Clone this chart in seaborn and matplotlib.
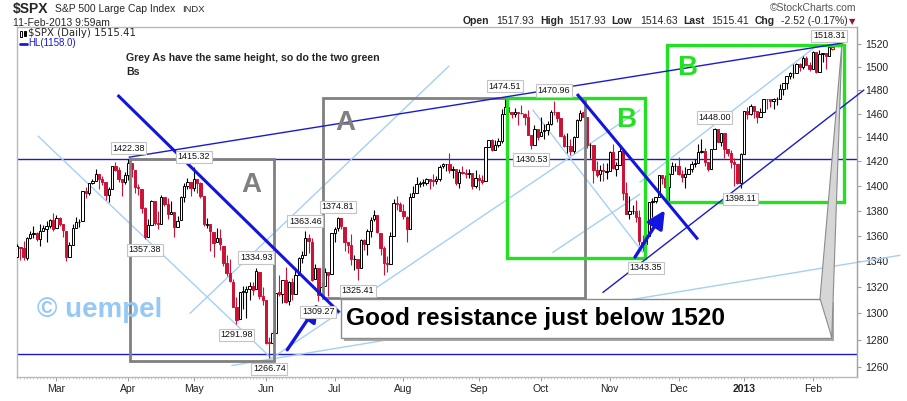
import numpy as np
import pandas as pd
import matplotlib
matplotlib.use("Agg")
import matplotlib.pyplot as plt
import matplotlib.transforms as mtransforms
from matplotlib.patches import Rectangle, Polygon
from matplotlib.lines import Line2D
from matplotlib.ticker import FixedLocator, FixedFormatter, NullLocator
import seaborn as sns

sns.set_theme(style="white")
plt.rcParams['font.family'] = ['Liberation Sans', 'DejaVu Sans']

# ------------------------------------------------------------------ data
start_date = '2012-02-13'
end_date = '2013-02-11'
market_holidays = ['2012-02-20', '2012-04-06', '2012-05-28', '2012-07-04', '2012-09-03',
                   '2012-10-29', '2012-10-30', '2012-11-22', '2012-12-25', '2013-01-01',
                   '2013-01-21']

opens = [
    # Feb 2012
    1343.06, 1351.30, 1350.52, 1342.61, 1358.06, 1361.22, 1362.11, 1357.53, 1363.46, 1365.20, 1367.56, 1372.20,
    # Mar
    1365.90, 1374.09, 1369.59, 1363.63, 1343.39, 1352.65, 1365.97, 1370.78, 1371.92, 1395.95, 1394.17, 1402.55,
    1404.17, 1409.59, 1405.52, 1402.89, 1392.78, 1397.11, 1416.55, 1412.52, 1405.39, 1403.31,
    # Apr
    1408.47, 1418.98, 1413.09, 1398.79, 1397.45, 1382.18, 1358.98, 1368.77, 1387.61, 1370.27, 1369.57, 1390.78,
    1385.08, 1376.96, 1378.53, 1366.97, 1372.11, 1390.64, 1400.19, 1403.26,
    # May
    1397.86, 1405.50, 1402.32, 1391.51, 1368.79, 1369.16, 1363.20, 1354.66, 1358.11, 1351.93, 1338.36, 1330.78,
    1324.18, 1305.05, 1295.73, 1316.02, 1316.36, 1318.72, 1320.81, 1318.90, 1331.25, 1313.09,
    # Jun
    1309.87, 1278.29, 1277.82, 1285.61, 1316.15, 1314.99, 1325.72, 1309.40, 1324.02, 1314.88, 1329.19, 1342.42,
    1344.83, 1357.98, 1355.43, 1325.92, 1334.90, 1314.09, 1320.71, 1331.52, 1330.12,
    # Jul
    1362.33, 1365.75, 1373.72, 1367.09, 1354.66, 1352.96, 1341.40, 1341.40, 1334.81, 1356.50, 1353.68, 1363.58,
    1373.01, 1376.51, 1362.34, 1350.52, 1338.35, 1338.17, 1360.05, 1385.94, 1385.27,
    # Aug
    1379.32, 1375.13, 1365.45, 1391.04, 1394.46, 1401.23, 1402.26, 1402.58, 1405.87, 1404.36, 1403.89, 1405.75,
    1415.84, 1417.85, 1418.13, 1413.09, 1413.49, 1401.99, 1411.13, 1410.44, 1409.32, 1410.08, 1400.07,
    # Sep
    1406.54, 1404.94, 1403.74, 1432.12, 1437.92, 1429.13, 1433.56, 1436.56, 1460.07, 1465.42, 1461.19, 1459.50,
    1461.05, 1460.34, 1459.76, 1456.94, 1441.60, 1433.36, 1447.13,
    # Oct
    1440.90, 1444.99, 1446.05, 1451.08, 1461.40, 1460.93, 1455.90, 1441.48, 1432.82, 1432.84, 1428.75, 1440.31,
    1454.22, 1460.94, 1457.34, 1433.21, 1433.74, 1413.20, 1409.74, 1412.61, 1410.99,
    # Nov
    1412.20, 1427.59, 1414.02, 1417.26, 1428.27, 1394.53, 1377.55, 1379.86, 1380.03, 1374.64, 1355.41, 1353.36,
    1359.88, 1386.82, 1387.79, 1391.03, 1409.15, 1406.29, 1398.77, 1409.96, 1415.95,
    # Dec
    1416.34, 1409.46, 1407.05, 1409.43, 1413.95, 1418.07, 1418.55, 1427.84, 1428.48, 1419.45, 1413.54, 1430.47,
    1446.79, 1435.81, 1443.67, 1430.15, 1426.66, 1419.83, 1418.10, 1402.43,
    # Jan 2013
    1426.19, 1462.42, 1459.37, 1466.47, 1461.89, 1457.15, 1461.02, 1472.12, 1472.05, 1470.67, 1472.33, 1472.63,
    1480.95, 1485.98, 1492.56, 1494.81, 1494.82, 1502.96, 1500.18, 1507.84, 1501.96,
    # Feb 2013
    1498.11, 1513.17, 1495.71, 1511.29, 1512.12, 1509.39, 1517.93,
]

highs = [
    1353.35, 1351.30, 1355.87, 1359.02, 1363.40, 1367.76, 1362.76, 1368.92, 1368.76, 1371.94, 1373.09, 1378.04,
    1376.17, 1374.53, 1369.63, 1363.63, 1354.85, 1368.92, 1374.76, 1373.04, 1396.13, 1399.42, 1402.63, 1405.88,
    1414.00, 1409.59, 1407.85, 1402.89, 1399.18, 1416.58, 1419.15, 1415.35, 1405.39, 1410.89,
    1422.38, 1419.00, 1413.09, 1401.60, 1397.45, 1383.01, 1373.02, 1388.13, 1387.61, 1379.66, 1392.76, 1390.78,
    1390.41, 1387.40, 1378.53, 1375.57, 1391.37, 1402.23, 1406.64, 1403.26,
    1415.32, 1405.50, 1403.07, 1391.51, 1373.91, 1369.16, 1363.20, 1365.88, 1365.20, 1351.93, 1344.94, 1341.78,
    1326.36, 1312.24, 1316.39, 1320.71, 1320.71, 1324.14, 1324.20, 1334.93, 1331.25, 1319.74,
    1309.87, 1282.55, 1287.62, 1315.13, 1329.05, 1325.81, 1335.52, 1324.31, 1327.28, 1333.68, 1343.32, 1348.22,
    1363.46, 1361.57, 1358.27, 1337.82, 1334.90, 1324.24, 1334.40, 1331.52, 1362.17,
    1367.13, 1374.81, 1373.85, 1367.09, 1354.66, 1361.54, 1345.00, 1341.40, 1357.70, 1357.26, 1365.36, 1375.26,
    1380.39, 1376.51, 1362.34, 1351.53, 1343.98, 1363.13, 1389.19, 1391.74, 1387.16,
    1385.03, 1375.32, 1394.16, 1399.63, 1407.14, 1404.14, 1405.95, 1405.98, 1405.87, 1410.03, 1407.73, 1417.44,
    1418.71, 1418.13, 1426.68, 1416.12, 1413.49, 1413.46, 1416.17, 1413.95, 1413.95, 1410.08, 1413.09,
    1409.31, 1408.81, 1432.12, 1437.92, 1438.74, 1437.76, 1439.15, 1463.76, 1474.51, 1465.63, 1461.47, 1465.15,
    1461.23, 1467.07, 1460.39, 1463.24, 1441.60, 1450.20, 1447.13,
    1457.14, 1451.52, 1453.89, 1463.14, 1470.96, 1460.93, 1455.90, 1442.40, 1443.92, 1438.43, 1441.31, 1455.51,
    1462.76, 1464.02, 1457.34, 1435.46, 1433.74, 1420.04, 1417.14, 1418.76, 1418.76,
    1428.35, 1434.27, 1419.12, 1433.38, 1428.27, 1403.33, 1391.39, 1384.87, 1388.81, 1380.13, 1360.62, 1362.03,
    1386.89, 1389.77, 1391.25, 1409.16, 1409.15, 1409.01, 1410.31, 1419.70, 1418.86,
    1423.73, 1413.14, 1415.56, 1413.95, 1420.34, 1421.64, 1434.27, 1438.59, 1431.36, 1419.45, 1430.67, 1448.00,
    1446.79, 1443.70, 1443.67, 1430.15, 1429.42, 1422.58, 1418.10, 1426.74,
    1462.43, 1465.47, 1467.94, 1466.47, 1461.89, 1464.73, 1472.30, 1472.75, 1472.05, 1473.31, 1473.96, 1485.16,
    1485.98, 1492.56, 1496.13, 1502.27, 1503.26, 1503.23, 1509.94, 1509.99, 1504.19,
    1514.41, 1513.17, 1514.96, 1512.53, 1512.12, 1518.31, 1517.93,
]

lows = [
    1343.06, 1340.80, 1340.80, 1341.22, 1357.24, 1358.11, 1355.53, 1352.28, 1363.46, 1354.92, 1365.97, 1363.94,
    1365.90, 1368.04, 1359.13, 1340.03, 1343.39, 1352.65, 1365.97, 1366.69, 1371.92, 1389.97, 1392.31, 1401.43,
    1403.82, 1397.68, 1400.64, 1388.73, 1386.87, 1397.11, 1411.95, 1403.24, 1391.56, 1401.60,
    1404.46, 1406.82, 1394.46, 1392.92, 1378.24, 1357.38, 1358.98, 1368.77, 1368.26, 1365.38, 1369.57, 1383.29,
    1372.91, 1376.96, 1358.79, 1366.97, 1372.11, 1387.16, 1397.32, 1391.87,
    1395.73, 1393.92, 1389.91, 1367.96, 1365.88, 1347.75, 1343.13, 1354.66, 1348.89, 1336.61, 1328.49, 1324.18,
    1304.86, 1291.98, 1295.73, 1303.45, 1296.53, 1310.04, 1314.23, 1318.90, 1310.76, 1306.62,
    1277.25, 1266.74, 1277.25, 1285.61, 1313.33, 1307.77, 1307.73, 1306.62, 1310.51, 1314.88, 1329.19, 1338.80,
    1344.51, 1346.45, 1324.41, 1325.92, 1309.27, 1313.88, 1320.71, 1313.29, 1330.12,
    1355.35, 1363.75, 1365.61, 1348.03, 1346.65, 1336.84, 1333.25, 1325.41, 1334.81, 1348.51, 1345.07, 1358.89,
    1371.95, 1362.19, 1345.07, 1329.24, 1331.50, 1338.17, 1360.05, 1380.39, 1379.31,
    1373.00, 1354.65, 1365.45, 1391.04, 1394.46, 1398.80, 1400.20, 1400.85, 1397.32, 1400.20, 1401.83, 1404.15,
    1414.28, 1412.13, 1410.86, 1406.78, 1400.50, 1398.04, 1409.47, 1406.05, 1406.20, 1397.01, 1398.04,
    1396.56, 1401.83, 1403.74, 1431.53, 1428.98, 1429.13, 1432.12, 1435.16, 1460.07, 1457.55, 1456.13, 1457.13,
    1449.98, 1459.51, 1450.53, 1441.59, 1430.53, 1433.36, 1437.39,
    1440.90, 1439.01, 1441.88, 1450.64, 1458.65, 1453.10, 1441.18, 1432.26, 1427.24, 1425.53, 1427.24, 1440.31,
    1453.31, 1456.25, 1430.88, 1422.90, 1402.22, 1407.56, 1403.95, 1403.95, 1405.95,
    1412.20, 1414.02, 1408.13, 1417.26, 1388.14, 1377.51, 1373.09, 1377.19, 1370.78, 1352.38, 1348.22, 1343.35,
    1359.88, 1374.82, 1386.33, 1391.03, 1401.13, 1398.03, 1385.43, 1409.96, 1411.95,
    1408.46, 1403.28, 1398.23, 1409.28, 1410.90, 1415.64, 1418.55, 1426.67, 1416.00, 1411.88, 1413.54, 1430.47,
    1435.73, 1432.82, 1422.58, 1424.68, 1414.33, 1399.47, 1401.58, 1398.11,
    1426.19, 1455.53, 1458.99, 1456.62, 1451.64, 1457.15, 1461.02, 1463.57, 1465.69, 1463.76, 1467.60, 1472.63,
    1475.52, 1481.16, 1489.90, 1490.82, 1494.82, 1496.33, 1498.09, 1501.42, 1496.26,
    1498.11, 1495.02, 1495.71, 1504.71, 1498.09, 1509.39, 1514.63,
]

closes = [
    1351.77, 1350.50, 1343.23, 1358.04, 1361.23, 1362.21, 1357.66, 1363.46, 1365.74, 1367.59, 1372.18, 1365.68,
    1374.09, 1369.63, 1364.33, 1343.36, 1352.63, 1365.91, 1370.87, 1371.09, 1395.95, 1394.28, 1402.60, 1404.17,
    1409.75, 1405.52, 1402.89, 1392.78, 1397.11, 1416.51, 1412.52, 1405.54, 1403.28, 1408.47,
    1419.04, 1413.38, 1398.96, 1398.08, 1382.20, 1358.59, 1368.71, 1387.57, 1370.26, 1369.57, 1390.78, 1385.14,
    1376.92, 1378.53, 1366.94, 1371.97, 1390.69, 1399.98, 1403.36, 1397.91,
    1405.82, 1402.31, 1391.57, 1369.10, 1369.58, 1363.72, 1354.58, 1357.99, 1353.39, 1338.35, 1330.66, 1324.80,
    1304.86, 1295.22, 1315.99, 1316.63, 1318.86, 1320.68, 1317.82, 1332.42, 1313.32, 1310.33,
    1278.04, 1278.18, 1285.50, 1315.13, 1314.99, 1325.66, 1308.93, 1324.18, 1314.88, 1329.10, 1342.84, 1344.78,
    1357.98, 1355.69, 1325.51, 1335.02, 1313.72, 1319.99, 1331.85, 1329.04, 1362.16,
    1365.51, 1374.02, 1367.58, 1354.68, 1352.46, 1341.47, 1341.45, 1334.76, 1356.78, 1353.64, 1363.67, 1372.78,
    1376.51, 1362.66, 1350.52, 1338.31, 1337.89, 1360.02, 1385.97, 1385.30, 1379.32,
    1375.32, 1365.00, 1390.99, 1394.23, 1401.35, 1402.22, 1402.80, 1405.87, 1404.11, 1403.93, 1405.53, 1415.51,
    1418.16, 1418.13, 1413.17, 1413.49, 1402.08, 1411.13, 1410.44, 1409.30, 1410.49, 1399.48, 1406.58,
    1404.94, 1403.44, 1432.12, 1437.92, 1429.08, 1433.56, 1436.56, 1459.99, 1465.77, 1461.19, 1459.32, 1461.05,
    1460.26, 1460.15, 1456.89, 1441.59, 1433.32, 1447.15, 1440.67,
    1444.49, 1445.75, 1450.99, 1461.40, 1460.93, 1455.88, 1441.48, 1432.56, 1432.84, 1428.59, 1440.13, 1454.92,
    1460.91, 1457.34, 1433.19, 1433.82, 1413.11, 1408.75, 1412.97, 1411.94, 1412.16,
    1427.59, 1414.20, 1417.26, 1428.39, 1394.53, 1377.51, 1379.85, 1380.03, 1374.53, 1355.49, 1353.33, 1359.88,
    1386.89, 1387.81, 1391.03, 1409.15, 1406.29, 1398.94, 1409.93, 1415.95, 1416.18,
    1409.46, 1407.05, 1409.28, 1413.94, 1418.07, 1418.55, 1427.84, 1428.48, 1419.45, 1413.58, 1430.36, 1446.79,
    1435.81, 1443.69, 1430.15, 1426.66, 1419.83, 1418.10, 1402.43, 1426.19,
    1462.42, 1459.37, 1466.47, 1461.89, 1457.15, 1461.02, 1472.12, 1472.05, 1470.68, 1472.34, 1472.63, 1480.94,
    1485.98, 1492.56, 1494.81, 1494.82, 1502.96, 1500.18, 1507.84, 1501.96, 1498.11,
    1513.17, 1495.71, 1511.29, 1512.12, 1509.39, 1517.93, 1515.41,
]

peak_labels = [1422.38, 1415.32, 1334.93, 1363.46, 1374.81, 1474.51, 1470.96, 1448.00, 1518.31]
trough_labels = [1357.38, 1291.98, 1266.74, 1309.27, 1325.41, 1430.53, 1343.35, 1398.11]
horizontal_levels = [1422.38, 1270.0]
price_ticks = [1260, 1280, 1300, 1320, 1340, 1360, 1380, 1400, 1420, 1440, 1460, 1480, 1500, 1520]

# ------------------------------------------------------------------ frame
dates = pd.bdate_range(start_date, end_date)
dates = dates[~dates.isin(pd.to_datetime(market_holidays))]
df = pd.DataFrame({'date': dates, 'open': opens, 'high': highs, 'low': lows, 'close': closes})
n = len(df)
idx = np.arange(n)

W, H = 907, 401
fig = plt.figure(figsize=(W / 100, H / 100), dpi=100)
fig.patch.set_facecolor('white')
ax = fig.add_axes([17 / W, 1 - 377.3 / H, 840 / W, 350.6 / H])
ax.set_facecolor('white')
ax.set_yscale('log')
ax.set_xlim(-0.03, 256.5)
ax.set_ylim(1252.6, 1535.6)


def ftext(x, y, s, **kw):
    return fig.text(x / W, 1 - y / H, s, **kw)


# colours
BLUE_THICK = '#1414e0'
BLUE_THIN = '#1a1ad0'
LIGHT = '#a6cff5'
GREEN = '#22e022'
GREY = '#808080'
RED = '#cc1236'

# horizontal lines
for lvl in horizontal_levels:
    ax.axhline(lvl, color=BLUE_THIN, lw=1.0, zorder=2)

# light blue channel lines (index, price)
light_lines = [
    ((6.4, 1441.0), (77.8, 1266.3)),
    ((52.8, 1300.0), (131.9, 1500.9)),
    ((65.6, 1261.2), (269.6, 1344.6)),
    ((78.1, 1267.1), (190.2, 1463.0)),
    ((157.5, 1463.0), (191.1, 1346.9)),
    ((163.6, 1346.9), (190.2, 1393.2)),
    ((190.2, 1402.9), (244.5, 1519.4)),
]
for (x0, y0), (x1, y1) in light_lines:
    sns.lineplot(x=[x0, x1], y=[y0, y1], ax=ax, color=LIGHT, lw=1.0, legend=False,
                 clip_on=False, zorder=2)

# candles
o = df['open'].to_numpy(); c = df['close'].to_numpy()
hi = np.maximum(df['high'].to_numpy(), np.maximum(o, c))
lo = np.minimum(df['low'].to_numpy(), np.minimum(o, c))
up = c >= o
edge = np.where(up, '#000000', RED)
face = np.where(up, '#ffffff', RED)
ax.vlines(idx, lo, hi, colors=edge, lw=0.8, zorder=3)
ax.bar(idx, np.abs(c - o), bottom=np.minimum(o, c), width=0.72, color=face,
       edgecolor=edge, linewidth=0.7, zorder=4)
ax.bar(idx[-1:], np.abs(c - o)[-1:], bottom=np.minimum(o, c)[-1:], width=0.9,
       color='#ffee44', edgecolor=RED, linewidth=0.7, zorder=5)

# boxes
boxes = [
    ((34.5, 1421.8), (78.4, 1264.4), GREY, 2.0),
    ((93.5, 1473.0), (173.4, 1311.6), GREY, 2.0),
    ((149.7, 1473.0), (191.9, 1342.5), GREEN, 2.4),
    ((198.5, 1519.4), (252.6, 1386.5), GREEN, 2.4),
]
for (x0, ytop), (x1, ybot), col, lw in boxes:
    ax.add_patch(Rectangle((x0, ybot), x1 - x0, ytop - ybot, fill=False, ec=col, lw=lw, zorder=6))

for (x, y, s, col) in [(71.4, 1400.5, 'A', GREY), (100.1, 1451.9, 'A', GREY),
                       (185.9, 1454.5, 'B', GREEN), (204.5, 1499.2, 'B', GREEN)]:
    ax.text(x, y, s, fontsize=20, fontweight='bold', color=col, ha='center', va='center', zorder=7)

# thin dark blue trend lines
for (x0, y0), (x1, y1) in [((34.2, 1423.5), (252.2, 1521.2)), ((178.9, 1315.9), (258.6, 1480.1))]:
    ax.plot([x0, x1], [y0, y1], color=BLUE_THIN, lw=1.0, zorder=6, clip_on=False)

# thick blue lines
for (x0, y0), (x1, y1) in [((30.7, 1475.8), (98.4, 1300.7)), ((171.0, 1476.7), (207.9, 1357.1))]:
    ax.plot([x0, x1], [y0, y1], color=BLUE_THICK, lw=2.2, zorder=7, solid_capstyle='butt')

# arrows
for tail, tip in [((82.5, 1272.8), (92.0, 1307.3)), ((188.7, 1343.2), (197.8, 1380.2))]:
    ax.annotate('', xy=tip, xytext=tail,
                arrowprops=dict(arrowstyle='-|>,head_length=0.9,head_width=0.45', lw=2.4,
                                color=BLUE_THICK, shrinkA=0, shrinkB=0), zorder=8)

# value labels
lab_kw = dict(textcoords='offset points', ha='center', va='center', fontsize=6.5,
              color='#111111', zorder=9,
              bbox=dict(boxstyle='square,pad=0.18', fc='white', ec='#c4c4c4', lw=0.8))
hi_arr = df['high'].to_numpy(); lo_arr = df['low'].to_numpy()
for v in peak_labels:
    i = int(np.argmin(np.abs(hi_arr - v)))
    ax.annotate(f'{v:.2f}', (i, v), xytext=(0, 7.4), **lab_kw)
for v in trough_labels:
    i = int(np.argmin(np.abs(lo_arr - v)))
    ax.annotate(f'{v:.2f}', (i, v), xytext=(0, -7.8), **lab_kw)

# callout box
shadow = mtransforms.offset_copy(ax.transData, fig=fig, x=3, y=-3, units='dots')
cx0, cx1, cyt, cyb = 98.9, 248.5, 1311.2, 1281.9
ax.add_patch(Rectangle((cx0, cyb), cx1 - cx0, cyt - cyb, transform=shadow, fc='#a8a8a8',
                       ec='none', zorder=10))
ax.add_patch(Rectangle((cx0, cyb), cx1 - cx0, cyt - cyb, fc='white', ec='#8c8c8c', lw=1.0,
                       zorder=11))
ax.add_patch(Polygon([(245.2, 1311.2), (251.9, 1520.3), (248.8, 1281.9)], closed=True,
                     fc='#d6d6d6', ec='#8c8c8c', lw=0.8, zorder=12, clip_on=False))
ax.text(100.4, 1296.3, 'Good resistance just below 1520', fontsize=17.6, fontweight='bold',
        color='black', ha='left', va='center', zorder=13)

# axes styling
for side in ['left', 'top', 'bottom', 'right']:
    ax.spines[side].set_visible(True)
    ax.spines[side].set_color('#b8b8b8')
    ax.spines[side].set_linewidth(1.0)
ax.spines['right'].set_color('#a0a0a0')
ax.yaxis.tick_right()
ax.yaxis.set_major_locator(FixedLocator(price_ticks))
ax.yaxis.set_major_formatter(FixedFormatter([str(t) for t in price_ticks]))
ax.yaxis.set_minor_locator(NullLocator())
ax.tick_params(axis='y', which='major', right=True, left=False, length=3, width=0.8,
               color='#a0a0a0', pad=3, labelsize=7.5, labelcolor='#222222')

month_id = dates.to_period('M')
first = np.r_[False, np.asarray(month_id[1:] != month_id[:-1])]
tick_pos = idx[first]
tick_lab = ['2013' if d.month == 1 else d.strftime('%b') for d in dates[first]]
ax.xaxis.set_major_locator(FixedLocator(tick_pos))
ax.xaxis.set_major_formatter(FixedFormatter(tick_lab))
ax.xaxis.set_minor_locator(FixedLocator(idx))
ax.tick_params(axis='x', which='major', bottom=True, length=3, width=0.8, color='#a0a0a0',
               pad=2, labelsize=7.5, labelcolor='#222222')
ax.tick_params(axis='x', which='minor', bottom=True, length=1.5, width=0.6, color='#c0c0c0')
for t in ax.get_xticklabels():
    if t.get_text() == '2013':
        t.set_fontweight('bold')
ax.grid(False)

# header texts
ftext(13, 8.5, r'\$SPX', fontsize=10, fontweight='bold', va='center', ha='left')
ftext(55, 8.8, 'S&P 500 Large Cap Index', fontsize=7.5, va='center', ha='left')
ftext(182, 9.0, 'INDX', fontsize=6.8, va='center', ha='left')
ftext(13, 22.5, '11-Feb-2013 9:59am', fontsize=7.5, va='center', ha='left')
ftext(856, 8.3, '\u00a9StockCharts.com', fontsize=7.5, va='center', ha='right', color='#555555')

last_o, last_h, last_l, last_c = opens[-1], highs[-1], lows[-1], closes[-1]
chg = last_c - closes[-2]
pct = chg / closes[-2] * 100
hdr = [(463, 'Open', True), (496, f'{last_o:.2f}', False), (540, 'High', True),
       (568, f'{last_h:.2f}', False), (611, 'Low', True), (640, f'{last_l:.2f}', False),
       (683, 'Last', True), (711, f'{last_c:.2f}', False), (755, 'Chg', True),
       (781, f'{chg:.2f} ({pct:.2f}%)', False)]
for x, s, b in hdr:
    ftext(x, 21.5, s, fontsize=7.5, fontweight='bold' if b else 'normal', va='center', ha='left')
ftext(852, 22, '\u25bc', fontsize=6, color='#8b1a3a', va='center', ha='center',
      family='DejaVu Sans')

# legend inside plot
fig.add_artist(Rectangle((20 / W, 1 - 37 / H), 2 / W, 6 / H, transform=fig.transFigure,
                         fill=False, ec='black', lw=0.7))
fig.add_artist(Rectangle((23.5 / W, 1 - 36 / H), 2 / W, 5 / H, transform=fig.transFigure,
                         fc='black', ec='black', lw=0.7))
ftext(28, 33.5, r'\$SPX (Daily) ' + f'{last_c:.2f}', fontsize=7.3, va='center', ha='left',
      family='DejaVu Sans')
fig.add_artist(Line2D([20 / W, 27 / W], [1 - 43.5 / H, 1 - 43.5 / H], transform=fig.transFigure,
                      color=BLUE_THIN, lw=2))
ftext(28, 43.5, 'HL(1158.0)', fontsize=7, va='center', ha='left', color=BLUE_THIN)

ftext(126, 58, 'Grey As have the same height, so do the two green', fontsize=7.6,
      fontweight='bold', va='center', ha='left')
ftext(126, 72, 'Bs', fontsize=7.6, fontweight='bold', va='center', ha='left')

ftext(37, 310, '\u00a9 uempel', fontsize=20, fontweight='bold', va='center', ha='left',
      color='#96c8f5', zorder=1)

fig.savefig('out.png', dpi=100, facecolor='white')
